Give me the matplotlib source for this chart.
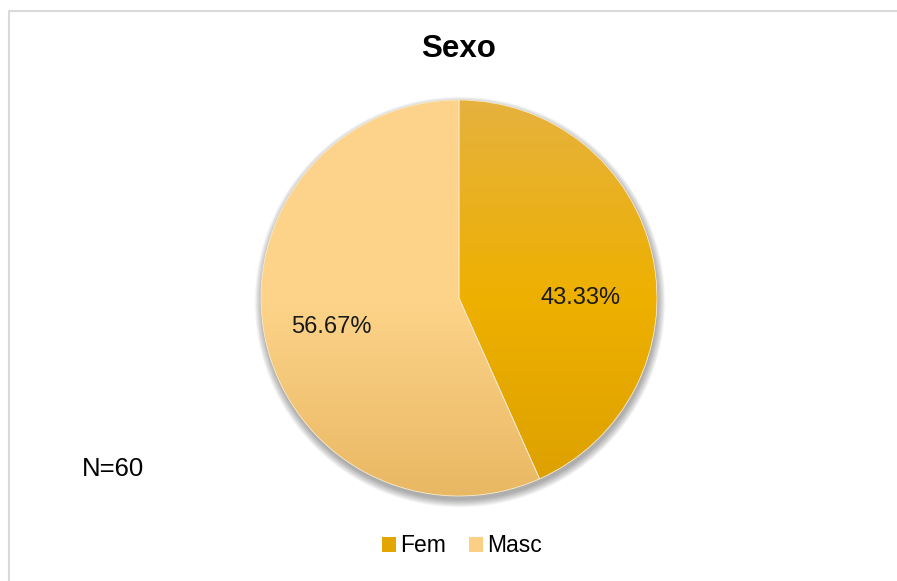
import numpy as np
import matplotlib
matplotlib.use("Agg")
import matplotlib.pyplot as plt
from matplotlib.patches import Circle, Patch
from matplotlib.colors import LinearSegmentedColormap

plt.rcParams['font.family'] = ['Liberation Sans', 'DejaVu Sans']

title = "Sexo"
categories = ["Fem", "Masc"]
values = [43.33, 56.67]
note = "N=60"

W, H = 897, 581
fig = plt.figure(figsize=(W / 100, H / 100), dpi=100)
ax = fig.add_axes([0, 0, 1, 1])
ax.set_xlim(0, W)
ax.set_ylim(0, H)
ax.set_aspect('equal')
ax.axis('off')

# chart border (top-left visible)
ax.plot([8.5, 8.5, W + 5], [-5, H - 10.5, H - 10.5], color='#D9D9D9', lw=1.5, zorder=0)

cx, cy, r = 459, H - 298, 198

# soft shadow
for i in range(9):
    ax.add_patch(Circle((cx + 1, cy - 4), r + i * 0.9, facecolor='black',
                        edgecolor='none', alpha=0.04, zorder=1))
ax.add_patch(Circle((cx, cy), r, facecolor='white', edgecolor='none', zorder=1.5))

base_colors = ['#EBAD00', '#FCD185']
wedges, _ = ax.pie(values, center=(cx, cy), radius=r, startangle=90, counterclock=False,
                   colors=base_colors,
                   wedgeprops=dict(edgecolor='#F5E6C8', linewidth=0.6),
                   frame=True)
ax.set_xlim(0, W)
ax.set_ylim(0, H)
ax.axis('off')

grads = [
    ['#E6B23E', '#EEB000', '#DCA000'],
    ['#FED38C', '#FDD48A', '#E9B863'],
]
for w, g in zip(wedges, grads):
    cmap = LinearSegmentedColormap.from_list('g', g)
    arr = np.linspace(0, 1, 256).reshape(-1, 1)
    im = ax.imshow(arr, cmap=cmap, extent=(cx - r, cx + r, cy - r, cy + r),
                   origin='upper', aspect='auto', zorder=2.5, interpolation='bilinear')
    im.set_clip_path(w)

# separator lines on top
for w in wedges:
    w.set_facecolor('none')
    w.set_zorder(3)

# data labels
label_pos = [(581, H - 298), (331, H - 327)]
for (lx, ly), v in zip(label_pos, values):
    ax.text(lx, ly, f"{v:.2f}%", ha='center', va='center', fontsize=17, color='#1a1a1a', zorder=4)

ax.text(459, H - 49, title, ha='center', va='center', fontsize=22.5, fontweight='bold', color='black')
ax.text(82, H - 469, note, ha='left', va='center', fontsize=18.5, color='black')

# legend
handles = [Patch(facecolor=c, edgecolor='none') for c in ['#E3A600', '#FBCF84']]
leg = ax.legend(handles, categories, loc='center', bbox_to_anchor=(462 / W, 1 - 546 / H),
                bbox_transform=fig.transFigure, ncol=2, frameon=False, fontsize=16.5,
                handlelength=0.6, handleheight=0.6, handletextpad=0.2, columnspacing=1.0)

fig.savefig("out.png", dpi=100)
